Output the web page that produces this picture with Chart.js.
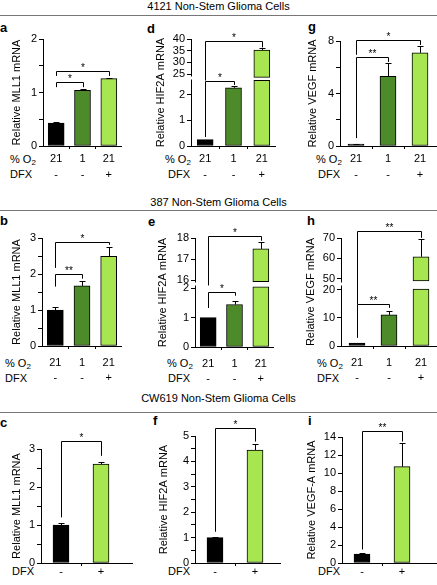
<!DOCTYPE html>
<html>
<head>
<meta charset="utf-8">
<script src="https://cdn.jsdelivr.net/npm/chart.js@4.4.0/dist/chart.umd.min.js"></script>
<style>
body { margin: 0; width: 437px; height: 585px; overflow: hidden; background: #fff; position: relative;
       font-family: "Liberation Sans", Arial, sans-serif; color: #000; }
canvas { position: absolute; }
.hdr { position: absolute; left: 0; width: 437px; text-align: center; font-size: 11px; line-height: 12px; }
.rule { position: absolute; left: 0; width: 437px; height: 1px; background: #777; }
.lab { position: absolute; font-weight: bold; font-size: 13px; line-height: 13px; }
.row { position: absolute; font-size: 11px; line-height: 13px; white-space: nowrap; }
.row sub { font-size: 8px; vertical-align: -2px; line-height: 0; }
</style>
</head>
<body>
<div class="hdr" style="top:0px">4121 Non-Stem Glioma Cells</div>
<div class="rule" style="top:15px"></div>
<div class="hdr" style="top:196px">387 Non-Stem Glioma Cells</div>
<div class="rule" style="top:210px"></div>
<div class="hdr" style="top:392px">CW619 Non-Stem Glioma Cells</div>
<div class="rule" style="top:412px"></div>

<div class="lab" style="left:0px;top:21px">a</div>
<div class="lab" style="left:147px;top:22px">d</div>
<div class="lab" style="left:308px;top:20px">g</div>
<div class="lab" style="left:0px;top:214px">b</div>
<div class="lab" style="left:148px;top:215px">e</div>
<div class="lab" style="left:307px;top:214px">h</div>
<div class="lab" style="left:0px;top:416px">c</div>
<div class="lab" style="left:153px;top:414px">f</div>
<div class="lab" style="left:308px;top:414px">i</div>

<div class="row" style="left:10px;top:152.8px">% O<sub>2</sub></div>
<div class="row" style="left:10px;top:167.8px">DFX</div>
<div class="row" style="left:165px;top:152.8px">% O<sub>2</sub></div>
<div class="row" style="left:168px;top:167.8px">DFX</div>
<div class="row" style="left:316px;top:152.8px">% O<sub>2</sub></div>
<div class="row" style="left:318px;top:167.8px">DFX</div>

<div class="row" style="left:5px;top:356.5px">% O<sub>2</sub></div>
<div class="row" style="left:5px;top:371.8px">DFX</div>
<div class="row" style="left:167px;top:356.5px">% O<sub>2</sub></div>
<div class="row" style="left:168px;top:371.8px">DFX</div>
<div class="row" style="left:317px;top:356.5px">% O<sub>2</sub></div>
<div class="row" style="left:317px;top:371.8px">DFX</div>

<div class="row" style="left:12px;top:564.8px">DFX</div>
<div class="row" style="left:168px;top:564.8px">DFX</div>
<div class="row" style="left:318px;top:564.8px">DFX</div>

<script>
// conditions
const o2Levels = ['21', '1', '21'];
const dfxHypoxia = ['-', '-', '+'];
const dfxOnly = ['-', '+'];

// 4121 cells
const mll1_4121 = [0.43, 1.04, 1.26];
const mll1_4121Err = [0.02, 0.03, 0.02];
const hif2a_4121 = [0.25, 2.27, 35.3];
const hif2a_4121Err = [0, 0.05, 0.7];
const vegf_4121 = [0.15, 5.3, 7.1];
const vegf_4121Err = [0.02, 1.0, 0.5];

// 387 cells
const mll1_387 = [1.0, 1.67, 2.49];
const mll1_387Err = [0.09, 0.14, 0.26];
const hif2a_387 = [1.0, 1.45, 17.48];
const hif2a_387Err = [0, 0.11, 0.35];
const vegf_387 = [1.0, 11.1, 60.8];
const vegf_387Err = [0.1, 1.5, 8.9];

// CW619 cells
const mll1_cw619 = [1.0, 2.6];
const mll1_cw619Err = [0.05, 0.06];
const hif2a_cw619 = [1.0, 4.45];
const hif2a_cw619Err = [0.03, 0.25];
const vegfa_cw619 = [1.0, 10.7];
const vegfa_cw619Err = [0.1, 2.6];

// y tick labels
const ticksA = [0, 1, 2];
const ticksDlow = [0, 1, 2], ticksDhigh = [25, 30, 35, 40];
const ticksG = [0, 4, 8];
const ticksB = [0, 1, 2, 3];
const ticksElow = [0, 1, 2], ticksEhigh = [16, 17, 18];
const ticksHlow = [0, 10, 20], ticksHhigh = [50, 60, 70];
const ticksC = [0, 1, 2, 3];
const ticksF = [0, 1, 2, 3, 4, 5];
const ticksI = [0, 2, 4, 6, 8, 10, 12, 14];

const colors3 = ['#000000', '#4d8a2a', '#a7e651'];
const colors2 = ['#000000', '#a7e651'];
const FONT = '"Liberation Sans", Arial, sans-serif';

const labels3 = o2Levels.map((o, i) => [o, dfxHypoxia[i]]);

const panels = [
  { id: 'a', l: 43, t: 39, r: 122, b: 146, xH: 35, pad: 2.5, labels: labels3,
    values: mll1_4121, errs: mll1_4121Err, title: 'Relative MLL1 mRNA', titleOff: 26,
    y: { min: 0, max: 2, step: 0.5, labels: ticksA },
    brackets: [
      { from: 0, to: 1, at: 1.2, left: 1.1, right: 1.1, mark: '*' },
      { from: 0, to: 2, at: 1.41, left: 1.31, right: 1.31, mark: '*' }] },
  { id: 'd', l: 191, t: 39, r: 276, b: 146, brk: 78, xH: 35, pad: 2.5, labels: labels3,
    values: hif2a_4121, errs: hif2a_4121Err, title: 'Relative HIF2A mRNA', titleOff: 30,
    y: { min: 0, max: 2.65, step: 1, labels: ticksDlow },
    y2: { min: 23.3, max: 40, step: 5, labels: ticksDhigh },
    lowerCap: 2.56, upperStart: 23.6,
    brackets: [
      { from: 0, to: 1, at: 2.55, left: 0.35, right: 2.38, mark: '*' },
      { from: 0, to: 2, at: [39, 'y2'], left: 2.55, right: [36.4, 'y2'], mark: '*' }] },
  { id: 'g', l: 340, t: 41, r: 436, b: 146, ext: 1, xH: 35, pad: 2.5, labels: labels3,
    values: vegf_4121, errs: vegf_4121Err, title: 'Relative VEGF mRNA', titleOff: 27,
    y: { min: 0, max: 8, step: 2, labels: ticksG },
    brackets: [
      { from: 0, to: 1, at: 6.8, left: 0.6, right: 6.4, mark: '**' },
      { from: 0, to: 2, at: 8.1, left: 6.95, right: 7.7, mark: '*' }] },

  { id: 'b', l: 42, t: 238, r: 122, b: 346, xH: 40, pad: 6, labels: labels3,
    values: mll1_387, errs: mll1_387Err, title: 'Relative MLL1 mRNA', titleOff: 25,
    y: { min: 0, max: 3, step: 0.5, labels: ticksB },
    brackets: [
      { from: 0, to: 1, at: 2.0, left: 1.65, right: 1.87, mark: '**' },
      { from: 0, to: 2, at: 2.9, left: 2.17, right: 2.81, mark: '*' }] },
  { id: 'e', l: 195, t: 238, r: 274, b: 347, brk: 284, xH: 40, pad: 6, labels: labels3,
    values: hif2a_387, errs: hif2a_387Err, title: 'Relative HIF2A mRNA', titleOff: 32,
    y: { min: 0, max: 2.15, step: 1, labels: ticksElow },
    y2: { min: 15.81, max: 18, step: 1, labels: ticksEhigh },
    lowerCap: 2.05, upperStart: 15.92,
    brackets: [
      { from: 0, to: 1, at: 1.88, left: 1.33, right: 1.75, mark: '*' },
      { from: 0, to: 2, at: [18.08, 'y2'], left: 2.1, right: [17.87, 'y2'], mark: '*' }] },
  { id: 'h', l: 341, t: 238, r: 437, b: 346, brk: 284, xH: 40, pad: 6, labels: labels3,
    values: vegf_387, errs: vegf_387Err, title: 'Relative VEGF mRNA', titleOff: 30,
    y: { min: 0, max: 22.1, step: 10, labels: ticksHlow },
    y2: { min: 47.5, max: 70, step: 10, labels: ticksHhigh },
    lowerCap: 20.25, upperStart: 49,
    brackets: [
      { from: 0, to: 1, at: 14.9, left: 2.9, right: 13.6, mark: '**' },
      { from: 0, to: 2, at: [73.3, 'y2'], left: 14.9, right: [70.1, 'y2'], mark: '**' }] },

  { id: 'c', l: 41, t: 449, r: 121, b: 563, ext: 12, xH: 22, pad: -2, labels: dfxOnly,
    values: mll1_cw619, errs: mll1_cw619Err, title: 'Relative MLL1 mRNA', titleOff: 24,
    y: { min: 0, max: 3, step: 0.5, labels: ticksC },
    brackets: [{ from: 0, to: 1, at: 3.21, left: 1.2, right: 2.82, mark: '*' }] },
  { id: 'f', l: 195, t: 436, r: 275, b: 563, ext: 6, xH: 22, pad: -2, labels: dfxOnly,
    values: hif2a_cw619, errs: hif2a_cw619Err, title: 'Relative HIF2A mRNA', titleOff: 31,
    y: { min: 0, max: 5, step: 0.5, labels: ticksF },
    brackets: [{ from: 0, to: 1, at: 5.3, left: 1.23, right: 4.78, mark: '*' }] },
  { id: 'i', l: 342, t: 437, r: 422, b: 563, ext: 15, xH: 22, pad: -2, labels: dfxOnly,
    values: vegfa_cw619, errs: vegfa_cw619Err, title: 'Relative VEGF-A mRNA', titleOff: 30,
    y: { min: 0, max: 14, step: 2, labels: ticksI },
    brackets: [{ from: 0, to: 1, at: 14.7, left: 1.5, right: 13.5, mark: '**' }] }
];

const PAD_TOP = 30, Y_W = 45;

function yScale(cfg, extra) {
  return Object.assign({
    type: 'linear', position: 'left', min: cfg.min, max: cfg.max, beginAtZero: false,
    border: { display: false },
    grid: { drawOnChartArea: false, drawTicks: true, tickLength: 4, color: '#000' },
    ticks: {
      stepSize: cfg.step, includeBounds: false, autoSkip: false, color: '#000', padding: 2,
      font: { family: FONT, size: 11 },
      callback: v => cfg.labels.some(l => Math.abs(l - v) < 1e-9) ? String(v) : ''
    },
    afterFit: s => { s.width = Y_W; }
  }, extra || {});
}

function overlay(p) {
  return {
    id: 'overlay_' + p.id,
    afterDatasetsDraw(chart) {
      const ctx = chart.ctx, area = chart.chartArea;
      const xs = chart.scales.x, lo = chart.scales.y, hi = chart.scales.y2;
      const py = s => Array.isArray(s) ? chart.scales[s[1]].getPixelForValue(s[0]) : lo.getPixelForValue(s);
      ctx.save();
      ctx.strokeStyle = '#000';
      ctx.fillStyle = '#000';
      ctx.lineWidth = 1;

      // axis lines (y axis broken where there is an upper scale)
      ctx.beginPath();
      const ax = Math.round(area.left) + 0.5;
      if (hi) {
        ctx.moveTo(ax, hi.top); ctx.lineTo(ax, hi.bottom - 1.5);
        ctx.moveTo(ax, lo.top + 1.5); ctx.lineTo(ax, lo.bottom + 1);
      } else {
        ctx.moveTo(ax, area.top); ctx.lineTo(ax, area.bottom + 1);
      }
      const ay = Math.round(area.bottom) + 0.5;
      ctx.moveTo(area.left, ay); ctx.lineTo(area.right + (p.ext || 0), ay);
      ctx.stroke();

      // error bars, upper side only
      p.values.forEach((v, i) => {
        const e = p.errs[i];
        if (!e) return;
        const s = hi && v > p.lowerCap ? hi : lo;
        const x = Math.round(xs.getPixelForValue(i)) + 0.5;
        const y0 = s.getPixelForValue(v), y1 = Math.round(s.getPixelForValue(v + e)) + 0.5;
        ctx.beginPath();
        ctx.moveTo(x, y0); ctx.lineTo(x, y1);
        ctx.moveTo(x - 3, y1); ctx.lineTo(x + 3, y1);
        ctx.stroke();
      });

      // significance brackets
      ctx.font = '10px ' + FONT;
      ctx.textAlign = 'center';
      ctx.textBaseline = 'alphabetic';
      p.brackets.forEach(b => {
        const x1 = Math.round(xs.getPixelForValue(b.from)) + 0.5;
        const x2 = Math.round(xs.getPixelForValue(b.to)) + 0.5;
        const y = Math.round(py(b.at)) + 0.5;
        ctx.beginPath();
        ctx.moveTo(x1, py(b.left)); ctx.lineTo(x1, y); ctx.lineTo(x2, y); ctx.lineTo(x2, py(b.right));
        ctx.stroke();
        ctx.fillText(b.mark, (x1 + x2) / 2, y - 1);
      });

      // y axis title
      ctx.translate(area.left - p.titleOff, (area.top + area.bottom) / 2);
      ctx.rotate(-Math.PI / 2);
      ctx.font = '11px ' + FONT;
      ctx.textBaseline = 'middle';
      ctx.fillText(p.title, 0, 0);
      ctx.restore();
    }
  };
}

function makePanel(p) {
  const cv = document.createElement('canvas');
  const ext = p.ext || 0;
  const w = Y_W + (p.r - p.l) + ext + 2;
  const h = PAD_TOP + (p.b - p.t) + p.xH;
  cv.width = w;
  cv.height = h;
  cv.style.width = w + 'px';
  cv.style.height = h + 'px';
  cv.style.left = (p.l - Y_W) + 'px';
  cv.style.top = (p.t - PAD_TOP) + 'px';
  document.body.appendChild(cv);

  const colors = p.values.length === 3 ? colors3 : colors2;
  const barBase = { backgroundColor: colors, borderColor: '#000', borderWidth: 1,
                    borderSkipped: false, barThickness: 16, grouped: false };
  let datasets, scales = {};

  scales.x = {
    type: 'category', offset: true,
    border: { display: false },
    grid: { offset: true, drawOnChartArea: false, tickLength: 3,
            color: c => c.index > 0 ? '#000' : 'rgba(0,0,0,0)' },
    ticks: { autoSkip: false, maxRotation: 0, color: '#000', padding: p.pad,
             font: { family: FONT, size: 11, lineHeight: '15.5px' } },
    afterFit: s => { s.height = p.xH; }
  };

  if (p.y2) {
    datasets = [
      Object.assign({ data: p.values.map(v => Math.min(v, p.lowerCap)), yAxisID: 'y' }, barBase),
      Object.assign({ data: p.values.map(v => v > p.lowerCap ? [p.upperStart, v] : null), yAxisID: 'y2' }, barBase)
    ];
    scales.y = yScale(p.y, { stack: 'brk' + p.id, stackWeight: p.b - p.brk });
    scales.y2 = yScale(p.y2, { stack: 'brk' + p.id, stackWeight: p.brk - p.t });
  } else {
    datasets = [Object.assign({ data: p.values, yAxisID: 'y' }, barBase)];
    scales.y = yScale(p.y);
  }

  new Chart(cv, {
    type: 'bar',
    data: { labels: p.labels, datasets: datasets },
    options: {
      responsive: false,
      animation: false,
      events: [],
      layout: { padding: { left: 0, top: PAD_TOP, right: w - Y_W - (p.r - p.l), bottom: 0 } },
      plugins: { legend: { display: false }, tooltip: { enabled: false } },
      scales: scales
    },
    plugins: [overlay(p)]
  });
}

panels.forEach(makePanel);
</script>
</body>
</html>
